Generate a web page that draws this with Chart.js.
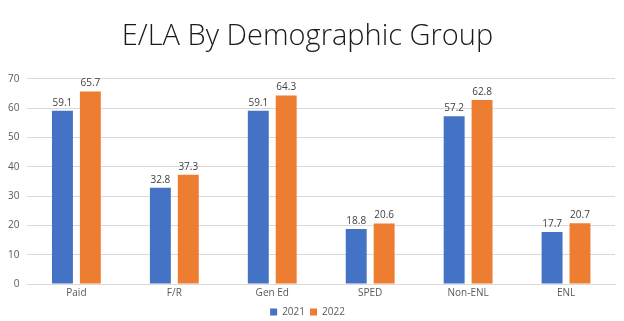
<!DOCTYPE html>
<html>
<head>
<meta charset="utf-8">
<script src="https://cdn.jsdelivr.net/npm/chart.js@4"></script>
<style>
  html, body { margin: 0; padding: 0; background: #fff; }
  #wrap { width: 624px; height: 321px; }
</style>
</head>
<body>
<div id="wrap"><canvas id="chartGroups"></canvas></div>
<script>
const groups = ["Paid", "F/R", "Gen Ed", "SPED", "Non-ENL", "ENL"];
const scores2021 = [59.1, 32.8, 59.1, 18.8, 57.2, 17.7];
const scores2022 = [65.7, 37.3, 64.3, 20.6, 62.8, 20.7];
const yTicks = [0, 10, 20, 30, 40, 50, 60, 70];

// prints each bar's value just above it
const barValues = {
  id: "barValues",
  afterDatasetsDraw(chart) {
    const ctx = chart.ctx;
    ctx.save();
    ctx.font = "10px 'Open Sans', sans-serif";
    ctx.fillStyle = "#404040";
    ctx.textAlign = "center";
    ctx.textBaseline = "bottom";
    chart.data.datasets.forEach((ds, i) => {
      chart.getDatasetMeta(i).data.forEach((bar, j) => {
        ctx.fillText(ds.data[j].toFixed(1), bar.x, bar.y - 3);
      });
    });
    ctx.restore();
  },
};

const ctx = document.getElementById("chartGroups").getContext("2d");
new Chart(ctx, {
  type: "bar",
  data: {
    labels: groups,
    datasets: [
      { label: "2021", data: scores2021, backgroundColor: "#4472C4" },
      { label: "2022", data: scores2022, backgroundColor: "#ED7D31" },
    ],
  },
  options: {
    responsive: true,
    maintainAspectRatio: false,
    animation: false,
    datasets: { bar: { categoryPercentage: 0.57, barPercentage: 0.75 } },
    layout: { padding: { left: 0, right: 9, top: 0, bottom: -6 } },
    plugins: {
      title: {
        display: true,
        text: "E/LA By Demographic Group",
        color: "#1a1a1a",
        font: { family: "'Open Sans', sans-serif", size: 29, weight: 300 },
        padding: { top: 19, bottom: 25 },
      },
      legend: {
        position: "bottom",
        labels: {
          boxWidth: 7,
          boxHeight: 7,
          color: "#595959",
          font: { family: "'Open Sans', sans-serif", size: 10 },
          padding: 5,
        },
      },
      tooltip: { enabled: false },
    },
    scales: {
      x: {
        grid: { display: false, drawTicks: false },
        border: { color: "#d9d9d9" },
        ticks: { color: "#595959", font: { family: "'Open Sans', sans-serif", size: 10 }, padding: 3 },
      },
      y: {
        min: 0,
        max: 70,
        afterBuildTicks(axis) {
          axis.ticks = yTicks.map((v) => ({ value: v }));
        },
        grid: { color: "#d9d9d9", drawTicks: false },
        border: { display: false },
        ticks: { color: "#595959", font: { family: "'Open Sans', sans-serif", size: 10 }, padding: 8 },
      },
    },
  },
  plugins: [barValues],
});
</script>
</body>
</html>
